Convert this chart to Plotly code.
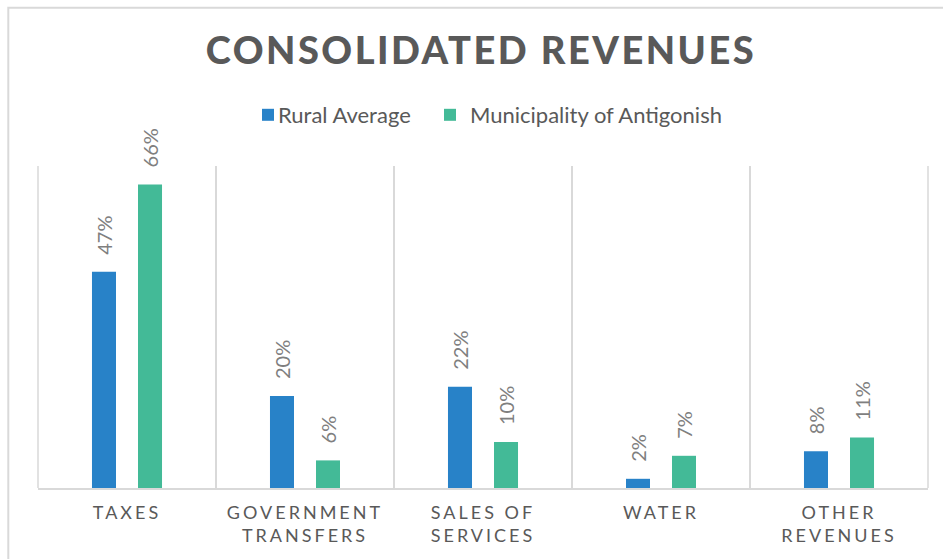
import plotly.graph_objects as go

categories = ["TAXES", "GOVERNMENT<br>TRANSFERS", "SALES OF<br>SERVICES", "WATER", "OTHER<br>REVENUES"]
rural_average = [47, 20, 22, 2, 8]
antigonish = [66, 6, 10, 7, 11]
series_names = ["Rural Average", "Municipality of Antigonish"]
title_text = "CONSOLIDATED REVENUES"

BLUE = "#2882C8"
GREEN = "#43BA97"
TEXT = "#595959"
LABEL = "#7F7F7F"
GRID = "#D9D9D9"
FONT = "Lato"

W, H = 943, 559
L, R, T, B = 38, 15, 166, 71
pw, ph = W - L - R, H - T - B

fig = go.Figure()
for name, vals, col, lg in [(series_names[0], rural_average, BLUE, "legend"),
                            (series_names[1], antigonish, GREEN, "legend2")]:
    fig.add_trace(go.Bar(
        x=categories, y=vals, name=name, legend=lg,
        marker=dict(color=col, line=dict(width=0)),
        text=[f"{v}%" for v in vals],
        textposition="outside", textangle=-90,
        textfont=dict(family=FONT, size=20, color=LABEL),
        cliponaxis=False, constraintext="none",
    ))

leg_common = dict(orientation="h", yanchor="middle", y=(H - B - 115) / ph, xanchor="left",
                  font=dict(family=FONT, size=22, color=TEXT),
                  itemclick=False, bgcolor="rgba(0,0,0,0)", borderwidth=0)

fig.update_layout(
    width=W, height=H,
    margin=dict(l=L, r=R, t=T, b=B, autoexpand=False),
    paper_bgcolor="white", plot_bgcolor="white",
    barmode="group", bargap=0.483, bargroupgap=0.478,
    title=dict(text=title_text, x=481 / W, xanchor="center",
               y=1 - 51 / H, yanchor="middle", xref="container", yref="container",
               font=dict(family=FONT, size=38, color=TEXT, weight=900)),
    legend=dict(x=(262 - 14 - L) / pw, **leg_common),
    legend2=dict(x=(444 - 14 - L) / pw, **leg_common),
    showlegend=True,
    font=dict(family=FONT, color=TEXT),
    xaxis=dict(type="category", tickson="boundaries", showgrid=True,
               gridcolor=GRID, gridwidth=1.5, showline=True, linecolor=GRID,
               linewidth=2, ticks="", ticklabelstandoff=7,
               tickfont=dict(family=FONT, size=18, color=TEXT),
               zeroline=False),
    yaxis=dict(range=[0, 70], visible=False, showgrid=False, zeroline=False),
    shapes=[
        dict(type="rect", xref="paper", yref="paper",
             x0=(8.3 - L) / pw, x1=1.2, y0=-0.5, y1=(H - B - 7.7) / ph,
             line=dict(color=GRID, width=2), fillcolor="rgba(0,0,0,0)", layer="below"),
        dict(type="line", xref="paper", yref="paper", x0=0, x1=0, y0=0, y1=1,
             line=dict(color=GRID, width=1.5), layer="below"),
        dict(type="line", xref="paper", yref="paper", x0=1, x1=1, y0=0, y1=1,
             line=dict(color=GRID, width=1.5), layer="below"),
    ],
)

post = """
document.body.style.margin = '0';
var st = document.createElement('style');
st.textContent = '.gtitle{letter-spacing:2.5px;} .xtick text{letter-spacing:3px;}';
document.head.appendChild(st);
var gd = document.getElementById('{plot_id}');
var firstLegendText = null;
function sp(){
  var lt = document.querySelectorAll('.legendtext');
  if (lt.length) { lt[0].setAttribute('x', '30'); }
  document.querySelectorAll('.bartext').forEach(function(e){
    var t = e.getAttribute('transform') || '';
    if (t.indexOf('translate(0,-14)') !== 0) { e.setAttribute('transform', 'translate(0,-14) ' + t); }
  });
}
sp();
gd.on('plotly_afterplot', sp);
setTimeout(sp, 50);
"""
fig.write_html("out.html", post_script=post, config={"displayModeBar": False})
